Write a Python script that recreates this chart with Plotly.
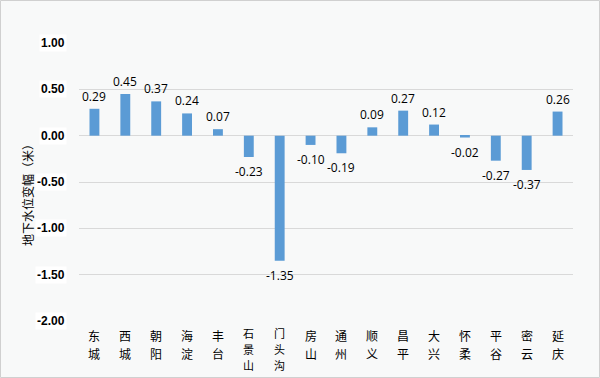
import plotly.graph_objects as go

districts = ["东城", "西城", "朝阳", "海淀", "丰台", "石景山", "门头沟", "房山",
             "通州", "顺义", "昌平", "大兴", "怀柔", "平谷", "密云", "延庆"]
changes = [0.29, 0.45, 0.37, 0.24, 0.07, -0.23, -1.35, -0.10,
           -0.19, 0.09, 0.27, 0.12, -0.02, -0.27, -0.37, 0.26]
y_ticks = [1.0, 0.5, 0.0, -0.5, -1.0, -1.5, -2.0]
y_title = "地下水位变幅（米）"

BG = "#f8f9f9"
BAR = "#5b9bd5"
GRID = "#d9d9d9"

W, H = 600, 378
L, R, T, B = 79, 27, 43, 57
pw, ph = W - L - R, H - T - B

fig = go.Figure()
fig.add_trace(go.Bar(
    x=districts, y=changes, marker=dict(color=BAR, line=dict(width=0)),
    hoverinfo="skip",
))

annotations = []
# value labels
for c, v in zip(districts, changes):
    annotations.append(dict(
        x=c, y=v, xref="x", yref="y", text=f"{v:.2f}", showarrow=False,
        yanchor="bottom" if v >= 0 else "top",
        yshift=2 if v >= 0 else -4,
        font=dict(family="Open Sans", size=12, color="#000000"),
    ))
# vertical category labels, one character per line
for c in districts:
    if len(c) <= 2:
        step, start, size = 18, 14, 12
    else:
        step, start, size = 16, 12, 11
    for i, ch in enumerate(c):
        annotations.append(dict(
            x=c, y=0, xref="x", yref="paper", text=ch, showarrow=False,
            yanchor="middle", yshift=-start - step * i, borderpad=0,
            font=dict(family="Noto Sans CJK SC", size=size, color="#000000"),
        ))
# y tick labels with white boxes
for t in y_ticks:
    annotations.append(dict(
        x=0, y=t, xref="paper", yref="y", text=f"<b>{t:.2f}</b>", showarrow=False,
        xanchor="right", xshift=-12, bgcolor="#ffffff", borderpad=1,
        font=dict(family="Liberation Sans", size=12, color="#000000"),
    ))
annotations.append(dict(
    x=(27 - L) / pw, y=(H - B - 192) / ph, xref="paper", yref="paper",
    xanchor="center", yanchor="middle",
    text=y_title, textangle=-90, showarrow=False,
    font=dict(family="Noto Sans CJK SC", size=12, color="#000000"),
))

fig.update_layout(
    width=W, height=H,
    margin=dict(l=L, r=R, t=T, b=B, pad=0),
    paper_bgcolor=BG, plot_bgcolor=BG,
    bargap=0.68,
    showlegend=False,
    annotations=annotations,
    shapes=[dict(
        type="rect", xref="paper", yref="paper",
        x0=(0.5 - L) / pw, x1=(W - 0.5 - L) / pw,
        y0=(H - B - (H - 0.5)) / ph, y1=(H - B - 0.5) / ph,
        line=dict(color="#d0d0d0", width=1), fillcolor="rgba(0,0,0,0)", layer="above",
    )],
    xaxis=dict(
        type="category", showgrid=False, showline=False, ticks="",
        showticklabels=False,
    ),
    yaxis=dict(
        range=[-2.0, 1.0], tickvals=y_ticks, showticklabels=False,
        showgrid=True, gridcolor=GRID, gridwidth=1,
        zeroline=True, zerolinecolor=GRID, zerolinewidth=1,
        showline=False, ticks="",
    ),
)

fig.write_html(
    "out.html",
    config={"displayModeBar": False},
    post_script="document.body.style.margin='0';document.body.style.overflow='hidden';",
)
